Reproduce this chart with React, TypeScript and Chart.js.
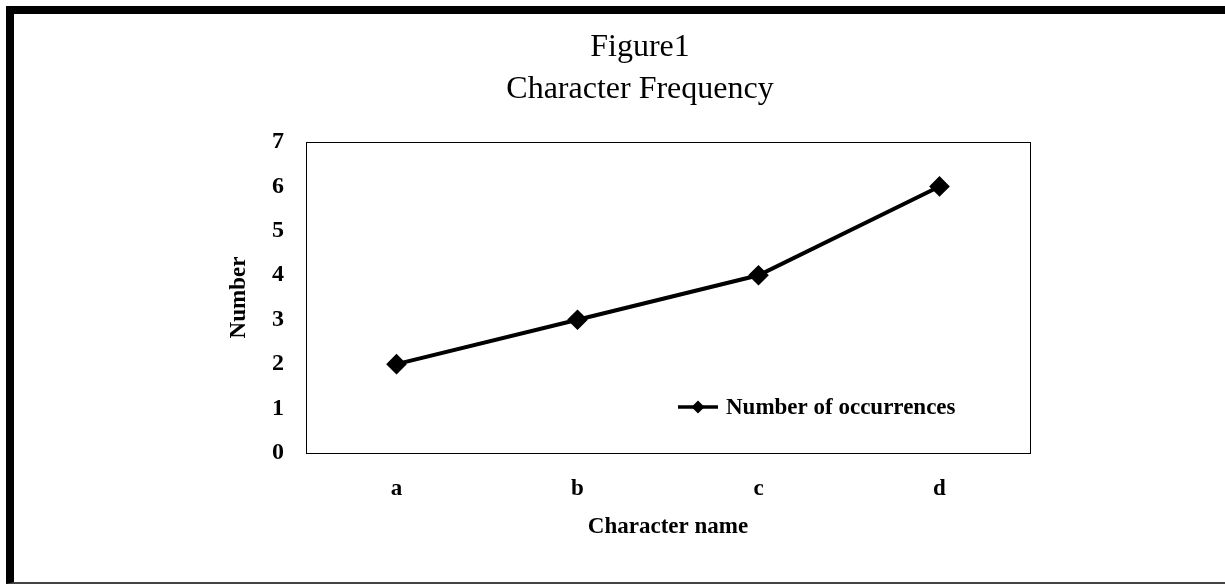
import React, { useEffect, useRef } from "react";
import { Chart, registerables } from "chart.js";

Chart.register(...registerables);

const categories = ["a", "b", "c", "d"];
const occurrences = [2, 3, 4, 6];
const seriesName = "Number of occurrences";
const titleLines = ["Figure1", "Character Frequency"];
const xTitle = "Character name";
const yTitle = "Number";
const yMin = 0;
const yMax = 7;

const SERIF = "'Liberation Serif', 'Times New Roman', serif";

const frameBox = {
  id: "frameBox",
  afterDraw(chart: any) {
    const { ctx, chartArea } = chart;
    ctx.save();
    ctx.strokeStyle = "#000";
    ctx.lineWidth = 1;
    ctx.strokeRect(
      Math.round(chartArea.left) + 0.5,
      Math.round(chartArea.top) + 0.5,
      Math.round(chartArea.right - chartArea.left),
      Math.round(chartArea.bottom - chartArea.top)
    );
    ctx.restore();
  },
};

const insideLegend = {
  id: "insideLegend",
  afterDraw(chart: any) {
    const { ctx, chartArea } = chart;
    const ds = chart.data.datasets[0];
    const x0 = chartArea.left + 372;
    const y0 = chartArea.bottom - 46;
    ctx.save();
    ctx.strokeStyle = "#000";
    ctx.lineWidth = 3.5;
    ctx.beginPath();
    ctx.moveTo(x0, y0);
    ctx.lineTo(x0 + 40, y0);
    ctx.stroke();
    const r = 6.5;
    const cx = x0 + 20;
    ctx.fillStyle = "#000";
    ctx.beginPath();
    ctx.moveTo(cx, y0 - r);
    ctx.lineTo(cx + r, y0);
    ctx.lineTo(cx, y0 + r);
    ctx.lineTo(cx - r, y0);
    ctx.closePath();
    ctx.fill();
    ctx.font = `bold 23px ${SERIF}`;
    ctx.textBaseline = "middle";
    ctx.textAlign = "left";
    ctx.fillText(ds.label, x0 + 48, y0 + 1);
    ctx.restore();
  },
};

export default function App() {
  const ref = useRef<HTMLCanvasElement | null>(null);
  useEffect(() => {
    if (!ref.current) return;
    const chart = new Chart(ref.current, {
      type: "line",
      data: {
        labels: categories,
        datasets: [
          {
            label: seriesName,
            data: occurrences,
            borderColor: "#000",
            backgroundColor: "#000",
            borderWidth: 4,
            pointStyle: "rectRot",
            pointRadius: 7.5,
            pointBackgroundColor: "#000",
            pointBorderColor: "#000",
            tension: 0,
          },
        ],
      },
      options: {
        animation: false,
        responsive: true,
        maintainAspectRatio: false,
        layout: { padding: { left: 236, right: 195, top: 0, bottom: 20 } },
        plugins: {
          legend: { display: false },
          tooltip: { enabled: false },
          title: {
            display: true,
            text: titleLines,
            color: "#000",
            font: { family: SERIF, size: 32, weight: "normal", lineHeight: 1.3125 },
            padding: { top: 13, bottom: 31 },
          },
        },
        scales: {
          x: {
            type: "category",
            offset: true,
            grid: { display: false, drawTicks: false },
            border: { display: true, color: "#000", width: 1 },
            ticks: {
              color: "#000",
              padding: 22,
              font: { family: SERIF, size: 23, weight: "bold" },
            },
            title: {
              display: true,
              text: xTitle,
              color: "#000",
              font: { family: SERIF, size: 23, weight: "bold" },
              padding: { top: 0, bottom: 21 },
            },
            afterFit: (s: any) => {
              s.height = 109;
            },
          },
          y: {
            min: yMin,
            max: yMax,
            grid: { display: false, drawTicks: false },
            border: { display: true, color: "#000", width: 1 },
            ticks: {
              stepSize: 1,
              color: "#000",
              padding: 22,
              font: { family: SERIF, size: 24, weight: "bold" },
            },
            title: {
              display: true,
              text: yTitle,
              color: "#000",
              font: { family: SERIF, size: 23, weight: "bold" },
              padding: { top: -25, bottom: 0 },
            },
            afterFit: (s: any) => {
              s.width = 56;
            },
          },
        },
      },
      plugins: [frameBox, insideLegend],
    });
    return () => chart.destroy();
  }, []);

  return (
    <div style={{ position: "fixed", left: 0, top: 0, width: 1225, height: 585, background: "#fff" }}>
      <div
        style={{
          position: "absolute",
          left: 6,
          top: 6,
          width: 1219,
          height: 578,
          boxSizing: "border-box",
          borderLeft: "8px solid #000",
          borderTop: "8px solid #000",
          borderBottom: "2px solid #444",
        }}
      />
      <div style={{ position: "absolute", left: 14, top: 14, width: 1211, height: 568 }}>
        <canvas ref={ref} />
      </div>
    </div>
  );
}
